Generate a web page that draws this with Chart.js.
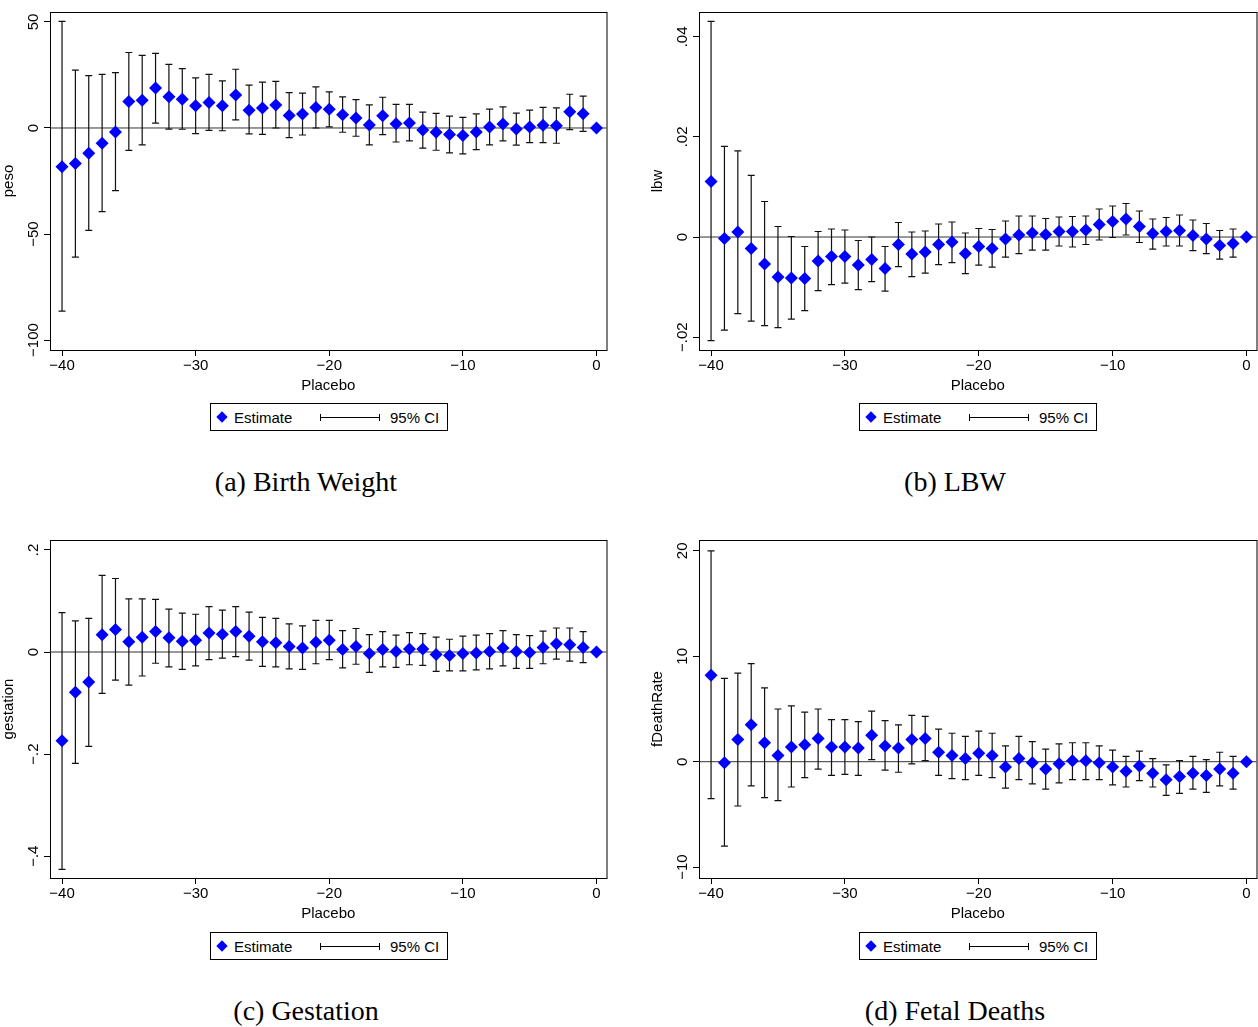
<!DOCTYPE html>
<html>
<head>
<meta charset="utf-8">
<script src="https://cdn.jsdelivr.net/npm/chart.js@4"></script>
<style>
  body { margin: 0; background: #fff; width: 1258px; height: 1027px; position: relative; font-family: 'Liberation Sans', Arial, sans-serif; }
  .cv { position: absolute; }
  .leg { position: absolute; border: 1px solid #000; height: 28px; width: 238px; font-size: 15px; box-sizing: border-box; }
  .leg span { position: absolute; top: 5px; }
  .dia { position: absolute; left: 7px; top: 9px; width: 8px; height: 8px; background: #00f; transform: rotate(45deg); }
  .ci { position: absolute; left: 109px; top: 13px; width: 60px; height: 0; border-top: 1px solid #000; }
  .ci:before, .ci:after { content: ''; position: absolute; top: -4px; height: 7px; border-left: 1px solid #000; }
  .ci:before { left: 0; } .ci:after { right: 0; }
  .cap { position: absolute; font-family: 'Liberation Serif', 'Times New Roman', serif; font-size: 28px; transform: translateX(-50%); white-space: nowrap; }
</style>
</head>
<body>
<canvas id="cA" class="cv" style="left:0;top:0"></canvas>
<canvas id="cB" class="cv" style="left:649px;top:0"></canvas>
<canvas id="cC" class="cv" style="left:0;top:528px"></canvas>
<canvas id="cD" class="cv" style="left:649px;top:528px"></canvas>

<div class="leg" style="left:210px;top:403px"><div class="dia"></div><span style="left:23px">Estimate</span><div class="ci"></div><span style="left:179px">95% CI</span></div>
<div class="leg" style="left:859px;top:403px"><div class="dia"></div><span style="left:23px">Estimate</span><div class="ci"></div><span style="left:179px">95% CI</span></div>
<div class="leg" style="left:210px;top:932px"><div class="dia"></div><span style="left:23px">Estimate</span><div class="ci"></div><span style="left:179px">95% CI</span></div>
<div class="leg" style="left:859px;top:932px"><div class="dia"></div><span style="left:23px">Estimate</span><div class="ci"></div><span style="left:179px">95% CI</span></div>

<div class="cap" style="left:306px;top:466px">(a) Birth Weight</div>
<div class="cap" style="left:955px;top:466px">(b) LBW</div>
<div class="cap" style="left:306px;top:995px">(c) Gestation</div>
<div class="cap" style="left:955px;top:995px">(d) Fetal Deaths</div>

<script>
// x positions: placebo periods -40 .. 0
var placebo = []
for (var i = -40; i <= 0; i++) placebo.push(i)

var pesoEst = [-18.3,-16.7,-11.9,-7.2,-1.9,12.5,13.1,18.8,14.7,13.6,10.5,12,10.5,15.6,8.4,9.4,10.9,5.9,6.6,9.7,8.8,6.3,4.7,1.4,5.8,2,2.3,-0.9,-2,-3.1,-3.6,-1.9,0.5,1.9,-0.5,0.5,1.3,1.1,7.7,6.7,0]
var pesoHi = [50.3,27.3,24.7,25.3,26.1,35.6,34.2,35.2,30,28,23.6,25.3,22.2,27.7,20.2,21.6,22,16.7,16.4,19.4,17,14.7,13.4,10.9,14.5,11.1,11.1,7.5,6.9,5.6,5,6.7,8.9,10,7,8.4,9.7,9.5,15.9,15,0]
var pesoLo = [-86.4,-60.9,-48.3,-39.4,-29.5,-10.6,-8,2.3,-0.5,-0.6,-2.7,-1.1,-1.3,3.8,-2.8,-3,0,-4.5,-3.3,0,0.5,-2,-3.9,-8,-3.1,-6.6,-6.1,-9.5,-10.5,-11.7,-12.2,-10.2,-8,-6.1,-8.1,-6.9,-6.9,-7.2,-0.8,-1.6,0]

var lbwEst = [.0111,-.0003,.001,-.0023,-.0054,-.008,-.0082,-.0083,-.0048,-.0039,-.0039,-.0056,-.0045,-.0063,-.0015,-.0034,-.003,-.0015,-.001,-.0033,-.0019,-.0023,-.0004,.0004,.0008,.0005,.0011,.0011,.0014,.0025,.0031,.0036,.0021,.0007,.0011,.0013,.0003,-.0004,-.0017,-.0013,0]
var lbwHi = [.0431,.0181,.0172,.0123,.0071,.0021,.0001,-.0019,.0011,.0016,.0014,-.0007,0,-.0019,.0029,.001,.0012,.0026,.003,.0008,.0017,.0015,.0032,.0042,.0042,.0037,.004,.0041,.0042,.0056,.0062,.0067,.0052,.0036,.0039,.0044,.0034,.0027,.0013,.0016,0]
var lbwLo = [-.0207,-.0186,-.0153,-.0168,-.0177,-.0181,-.0164,-.0147,-.0107,-.0095,-.0092,-.0105,-.0089,-.0108,-.0059,-.0079,-.0072,-.0055,-.0051,-.0073,-.0056,-.006,-.004,-.0033,-.0026,-.0026,-.0018,-.002,-.0015,-.0006,-.0001,.0004,-.0011,-.0024,-.0018,-.0018,-.0027,-.0033,-.0044,-.004,0]

var gestEst = [-.174,-.079,-.059,.034,.044,.02,.029,.04,.028,.021,.023,.037,.035,.04,.031,.02,.018,.011,.008,.019,.023,.005,.011,-.003,.005,.001,.006,.006,-.005,-.007,-.003,-.002,.001,.008,.001,-.001,.009,.016,.014,.009,0]
var gestHi = [.077,.061,.066,.15,.144,.104,.104,.103,.084,.076,.074,.089,.082,.089,.078,.068,.066,.055,.051,.062,.062,.042,.046,.034,.04,.033,.038,.036,.029,.025,.031,.033,.036,.042,.034,.032,.041,.047,.047,.04,0]
var gestLo = [-.426,-.218,-.185,-.081,-.055,-.065,-.047,-.022,-.029,-.034,-.027,-.015,-.012,-.009,-.016,-.028,-.029,-.033,-.034,-.023,-.015,-.031,-.024,-.04,-.029,-.03,-.025,-.026,-.038,-.037,-.037,-.035,-.033,-.027,-.032,-.032,-.023,-.014,-.018,-.021,0]

var fdEst = [8.2,-0.1,2.1,3.5,1.8,0.6,1.4,1.6,2.2,1.4,1.4,1.3,2.5,1.5,1.3,2.1,2.2,0.9,0.6,0.3,0.8,0.6,-0.5,0.3,-0.1,-0.7,-0.2,0.1,0.1,-0.1,-0.5,-0.9,-0.4,-1.1,-1.7,-1.4,-1.1,-1.3,-0.7,-1.1,0]
var fdHi = [20,7.9,8.4,9.3,7,5,5.3,4.7,5,4,4,3.8,4.8,3.9,3.5,4.4,4.3,3.1,2.7,2.4,2.9,2.7,1.5,2.4,1.9,1.2,1.7,1.8,1.8,1.5,1.1,0.5,1,0.3,-0.3,0.1,0.5,0.2,0.9,0.5,0]
var fdLo = [-3.5,-8,-4.2,-2.3,-3.4,-3.7,-2.4,-1.5,-0.7,-1.3,-1.2,-1.3,0.2,-0.8,-1,-0.2,0.1,-1.3,-1.6,-1.7,-1.3,-1.5,-2.5,-1.7,-2.1,-2.6,-2,-1.7,-1.7,-1.7,-2.2,-2.4,-1.8,-2.4,-3.2,-3,-2.6,-2.9,-2.3,-2.6,0]

var xTicks = [-40, -30, -20, -10, 0]
var pesoTicks = [50, 0, -50, -100]
var lbwTicks = [.04, .02, 0, -.02]
var gestTicks = [.2, 0, -.2, -.4]
var fdTicks = [20, 10, 0, -10]

function fmt(v) {
  var s = String(Math.abs(v)).replace(/^0\./, '.')
  return (v < 0 ? '\u2212' : '') + s
}

var stataPlugin = {
  id: 'stata',
  beforeDatasetsDraw: function (chart) {
    var c = chart.ctx, a = chart.chartArea
    var xs = chart.scales.x, ys = chart.scales.y
    var o = chart.options.plugins.stata
    c.save()
    c.strokeStyle = '#000'
    c.lineWidth = 1
    c.strokeRect(a.left + 0.5, a.top + 0.5, a.right - a.left, a.bottom - a.top)
    c.strokeStyle = '#333'
    c.beginPath()
    c.moveTo(a.left, ys.getPixelForValue(0))
    c.lineTo(a.right, ys.getPixelForValue(0))
    c.stroke()
    // error bars
    c.strokeStyle = '#111'
    c.lineWidth = 1.2
    for (var i = 0; i < o.lo.length; i++) {
      if (o.lo[i] === o.hi[i]) continue
      var px = xs.getPixelForValue(placebo[i])
      var y1 = ys.getPixelForValue(o.lo[i]), y2 = ys.getPixelForValue(o.hi[i])
      c.beginPath()
      c.moveTo(px, y1); c.lineTo(px, y2)
      c.moveTo(px - 3.5, y1); c.lineTo(px + 3.5, y1)
      c.moveTo(px - 3.5, y2); c.lineTo(px + 3.5, y2)
      c.stroke()
    }
    // rotated y tick labels
    c.fillStyle = '#000'
    c.font = '15px "Liberation Sans", Arial'
    c.textAlign = 'center'
    c.textBaseline = 'bottom'
    o.ticks.forEach(function (t) {
      c.save()
      c.translate(a.left - 9, ys.getPixelForValue(t))
      c.rotate(-Math.PI / 2)
      c.fillText(fmt(t), 0, 0)
      c.restore()
    })
    c.restore()
  }
}

function makeChart(id, w, est, lo, hi, ticks, ymin, ymax, ytitle) {
  var el = document.getElementById(id)
  el.width = w; el.height = 395
  el.style.width = w + 'px'; el.style.height = '395px'
  new Chart(el, {
    type: 'scatter',
    data: {
      datasets: [{
        data: placebo.map(function (x, i) { return { x: x, y: est[i] } }),
        pointStyle: 'rectRot',
        pointRadius: 6.5,
        backgroundColor: '#0000ff',
        borderColor: '#0000ff',
        borderWidth: 0
      }]
    },
    options: {
      responsive: false,
      animation: false,
      layout: { padding: { top: 8, right: 0, left: 0, bottom: 0 } },
      plugins: {
        legend: { display: false },
        tooltip: { enabled: false },
        stata: { lo: lo, hi: hi, ticks: ticks }
      },
      scales: {
        x: {
          type: 'linear', min: -40.9, max: 0.75,
          afterBuildTicks: function (s) { s.ticks = xTicks.map(function (v) { return { value: v } }) },
          afterFit: function (s) { s.height = 45 },
          border: { display: false },
          grid: { drawOnChartArea: false, tickLength: 6, color: '#000' },
          ticks: { color: '#000', font: { size: 15, family: 'Liberation Sans' }, padding: 1, maxRotation: 0, callback: function (v) { return fmt(v) } },
          title: { display: true, text: 'Placebo', color: '#000', font: { size: 15, family: 'Liberation Sans' }, padding: 0 }
        },
        y: {
          type: 'linear', min: ymin, max: ymax,
          afterBuildTicks: function (s) { s.ticks = ticks.map(function (v) { return { value: v } }) },
          afterFit: function (s) { s.width = 50 },
          border: { display: false },
          grid: { drawOnChartArea: false, tickLength: 6, color: '#000' },
          ticks: { color: 'rgba(0,0,0,0)', font: { size: 15 }, callback: function (v) { return fmt(v) } },
          title: { display: true, text: ytitle, color: '#000', font: { size: 15, family: 'Liberation Sans' }, padding: 0 }
        }
      }
    },
    plugins: [stataPlugin]
  })
}

makeChart('cA', 613, pesoEst, pesoLo, pesoHi, pesoTicks, -104.7, 54.7, 'peso')
makeChart('cB', 614, lbwEst, lbwLo, lbwHi, lbwTicks, -0.02258, 0.04497, 'lbw')
makeChart('cC', 613, gestEst, gestLo, gestHi, gestTicks, -0.4427, 0.2194, 'gestation')
makeChart('cD', 614, fdEst, fdLo, fdHi, fdTicks, -11.03, 21.03, 'fDeathRate')
</script>
</body>
</html>
